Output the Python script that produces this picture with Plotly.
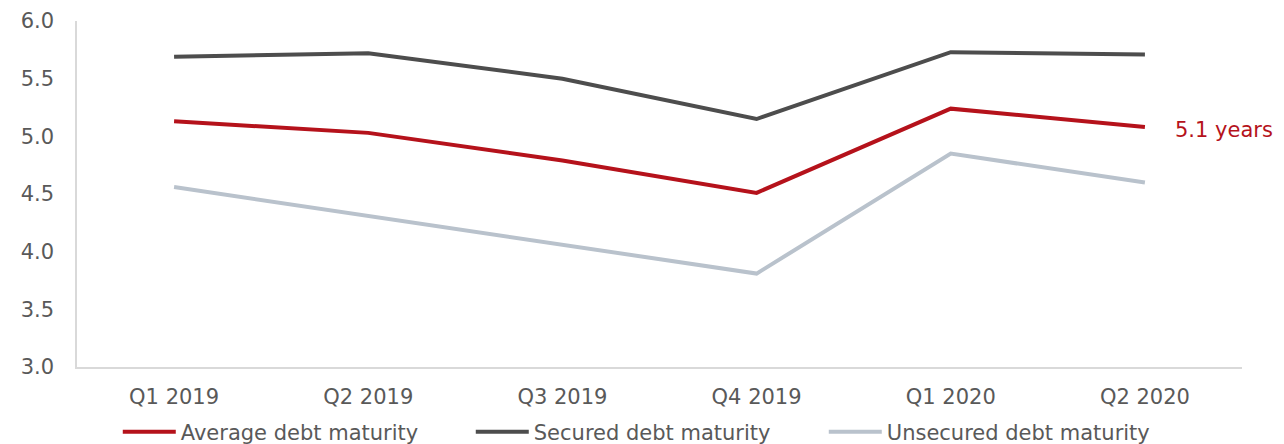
import plotly.graph_objects as go

quarters = ["Q1 2019", "Q2 2019", "Q3 2019", "Q4 2019", "Q1 2020", "Q2 2020"]
average = [5.13, 5.03, 4.79, 4.51, 5.24, 5.08]
secured = [5.69, 5.72, 5.50, 5.15, 5.73, 5.71]
unsecured = [4.56, 4.31, 4.06, 3.81, 4.85, 4.60]
y_ticks = [3.0, 3.5, 4.0, 4.5, 5.0, 5.5, 6.0]
end_label = "5.1 years"

RED = "#B5121B"
DARK = "#4D4D4D"
LIGHT = "#B9C2CC"
TXT = "#595959"
FONT = "DejaVu Sans"
FS = 21

fig = go.Figure()
fig.add_trace(go.Scatter(x=quarters, y=average, mode="lines", name="Average debt maturity",
                         line=dict(color=RED, width=4)))
fig.add_trace(go.Scatter(x=quarters, y=secured, mode="lines", name="Secured debt maturity",
                         line=dict(color=DARK, width=4)))
fig.add_trace(go.Scatter(x=quarters, y=unsecured, mode="lines", name="Unsecured debt maturity",
                         line=dict(color=LIGHT, width=4)))

fig.add_annotation(x=quarters[-1], y=average[-1], text=end_label, showarrow=False,
                   xanchor="left", yanchor="middle", xshift=28, yshift=-3,
                   font=dict(family=FONT, size=FS, color=RED))

fig.update_layout(
    width=1284, height=444,
    margin=dict(l=77, r=42, t=21, b=77, autoexpand=False),
    paper_bgcolor="white", plot_bgcolor="white",
    font=dict(family=FONT, size=FS, color=TXT),
    showlegend=True,
    legend=dict(orientation="h", x=0.035, xanchor="left", y=-0.188, yanchor="middle",
                font=dict(family=FONT, size=FS, color=TXT),
                entrywidth=285, entrywidthmode="pixels", itemwidth=53,
                bgcolor="rgba(0,0,0,0)"),
    xaxis=dict(type="category", range=[-0.5, 5.5], showgrid=False, zeroline=False,
               showline=True, linecolor="#D9D9D9", linewidth=1.5, ticks="",
               ticklabelstandoff=10, tickfont=dict(family=FONT, size=FS, color=TXT)),
    yaxis=dict(range=[3.0, 6.0], tickvals=y_ticks, ticktext=[f"{v:.1f}" for v in y_ticks],
               showgrid=False, zeroline=False, showline=True, linecolor="#D9D9D9",
               linewidth=1.5, ticks="", ticklabelstandoff=17,
               tickfont=dict(family=FONT, size=FS, color=TXT)),
)

fig.write_html("out.html", config={"displayModeBar": False},
               post_script="document.body.style.margin='0';document.body.style.overflow='hidden';")
